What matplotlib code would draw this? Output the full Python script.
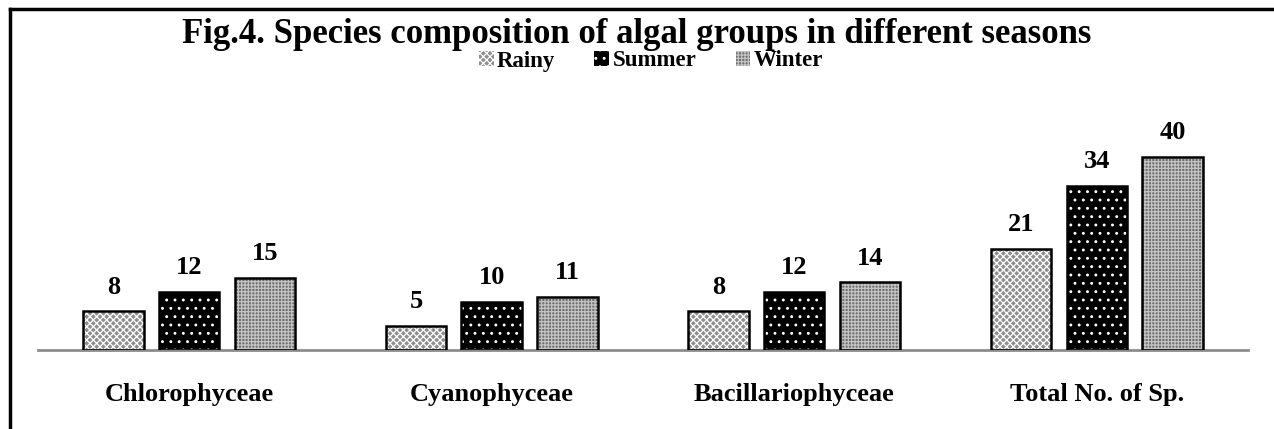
import matplotlib
matplotlib.use("Agg")
import matplotlib.pyplot as plt
from matplotlib.patches import Patch
from matplotlib.lines import Line2D
import numpy as np

categories = ["Chlorophyceae", "Cyanophyceae", "Bacillariophyceae", "Total No. of Sp."]
seasons = ["Rainy", "Summer", "Winter"]
rainy = [8, 5, 8, 21]
summer = [12, 10, 12, 34]
winter = [15, 11, 14, 40]

plt.rcParams['font.family'] = ['Liberation Serif', 'DejaVu Serif']
plt.rcParams['font.weight'] = 'bold'
plt.rcParams['hatch.linewidth'] = 0.9

# face colour, hatch colour, hatch pattern for each season
styles = [
    ("#8e8e8e", "white", "xxxxx"),
    ("black", "white", ".."),
    ("#6e6e6e", "#c4c4c4", "+++++"),
]

fig = plt.figure(figsize=(12.74, 4.29), dpi=100)
ax = fig.add_axes([0.0298, 0.1841, 0.9498, 0.5068])

x = np.arange(len(categories))
width = 0.2
offsets = [-0.25, 0, 0.25]
handles = []
for vals, off, (fc, hc, hatch), name in zip([rainy, summer, winter], offsets, styles, seasons):
    ax.bar(x + off, vals, width, color=fc, edgecolor=hc, hatch=hatch, linewidth=0, zorder=2)
    ax.bar(x + off, vals, width, fill=False, edgecolor="black", linewidth=1.8, zorder=3)
    for xi, v in zip(x + off, vals):
        ax.text(xi, v + 2.6, str(v), ha="center", va="bottom", fontsize=19, fontweight="bold")
    handles.append(Patch(facecolor=fc, edgecolor=hc, hatch=hatch, linewidth=0))

ax.set_xlim(-0.5, 3.5)
ax.set_ylim(0, 45)
for s in ["top", "right", "left"]:
    ax.spines[s].set_visible(False)
ax.spines["bottom"].set_color("#8c8c8c")
ax.spines["bottom"].set_linewidth(2)
ax.set_yticks([])
ax.set_xticks(x)
ax.set_xticklabels(categories, fontsize=19, fontweight="bold")
ax.tick_params(axis="x", length=0, pad=24)

fig.text(0.5, 1 - 43 / 429, "Fig.4. Species composition of algal groups in different seasons",
         ha="center", va="baseline", fontsize=25, fontweight="bold")
fig.legend(handles=handles, labels=seasons, loc="center", bbox_to_anchor=(0.511, 1 - 61 / 429),
           ncol=3, frameon=False, handlelength=0.65, handleheight=0.65,
           handletextpad=0.15, columnspacing=1.7, borderpad=0.1,
           prop={"weight": "bold", "size": 16.5})

# chart border (top and left edges visible)
fig.add_artist(Line2D([10 / 1274, 10 / 1274], [0, 1 - 9 / 429], color="black", lw=2.5, transform=fig.transFigure))
fig.add_artist(Line2D([10 / 1274, 1], [1 - 9 / 429, 1 - 9 / 429], color="black", lw=2.5, transform=fig.transFigure))

fig.savefig("out.png", dpi=100)
